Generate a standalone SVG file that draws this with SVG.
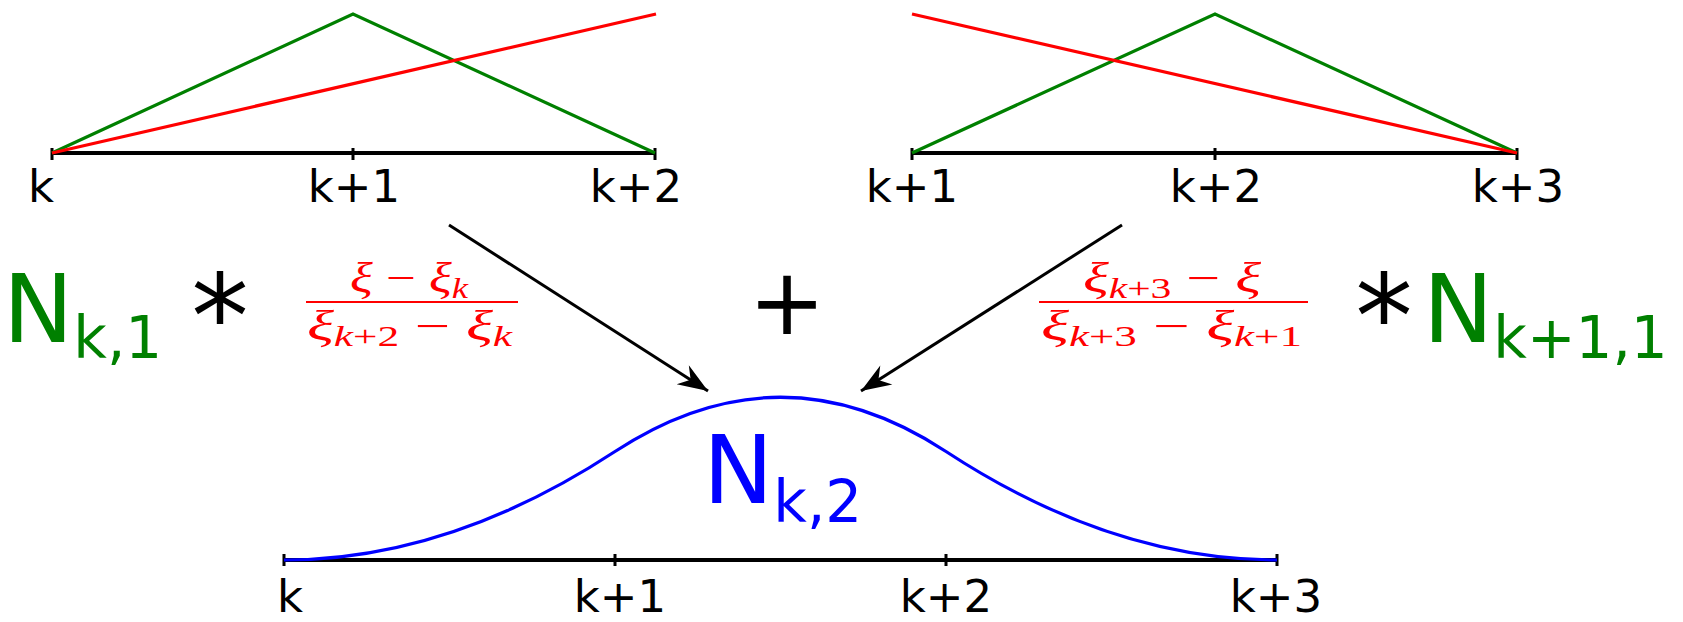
<svg xmlns="http://www.w3.org/2000/svg" width="1683" height="622" viewBox="0 0 1683 622">
<style>
.axis{stroke:#000;stroke-width:4;fill:none}
.tick{stroke:#000;stroke-width:3;fill:none}
.g{stroke:#008000;stroke-width:3.2;fill:none}
.r{stroke:#ff0000;stroke-width:3.2;fill:none}
.b{stroke:#0000ff;stroke-width:3.2;fill:none}
.lbl{font-family:"DejaVu Sans",Verdana,sans-serif;font-size:45px;fill:#000;text-anchor:middle}
.big{font-family:"DejaVu Sans",Verdana,sans-serif;font-size:94px}
.sub58{font-size:58px}
.op{font-family:"DejaVu Sans",sans-serif;fill:#000;text-anchor:middle}
.frac{font-family:"Liberation Serif","Times New Roman",serif;font-size:42px;fill:#ff0000}
.it{font-style:italic}
.sub{font-size:29px}
.fl{stroke:#ff0000;stroke-width:2}
.arrow{stroke:#000;stroke-width:3;fill:none}
</style>
<defs>
<marker id="ah" markerUnits="userSpaceOnUse" markerWidth="40" markerHeight="30" viewBox="-34 -16 38 32" refX="0" refY="0" orient="auto">
<path d="M0,0 L-32,-12 L-22,0 L-32,12 Z" fill="#000"/>
</marker>
</defs>

<g id="plot-top-left">
<line class="axis" x1="52" y1="153" x2="655" y2="153"/>
<path class="tick" d="M52,148 V160 M353,148 V160 M655,148 V160"/>
<polyline class="g" points="52,153 353,14 655,153"/>
<line class="r" x1="52" y1="153" x2="656" y2="14"/>
<text class="lbl" x="41" y="202">k</text>
<text class="lbl" x="354" y="202">k+1</text>
<text class="lbl" x="636" y="202">k+2</text>
</g>

<g id="plot-top-right">
<line class="axis" x1="912" y1="153" x2="1517" y2="153"/>
<path class="tick" d="M912,148 V160 M1215,148 V160 M1517,148 V160"/>
<polyline class="g" points="912,153 1215,14 1517,153"/>
<line class="r" x1="912" y1="14" x2="1517" y2="153"/>
<text class="lbl" x="912" y="202">k+1</text>
<text class="lbl" x="1216" y="202">k+2</text>
<text class="lbl" x="1518" y="202">k+3</text>
</g>

<g id="term-left">
<text class="big" x="3" y="342" fill="#008000">N<tspan class="sub58" dy="16">k,1</tspan></text>
<text class="op" x="220" y="357" font-size="115">*</text>
<line class="fl" x1="306" y1="302" x2="518" y2="302"/>
<text class="frac" x="350" y="292" textLength="118" lengthAdjust="spacingAndGlyphs"><tspan class="it">ξ</tspan> − <tspan class="it">ξ</tspan><tspan class="sub it" dy="6">k</tspan></text>
<text class="frac" x="307" y="340" textLength="205" lengthAdjust="spacingAndGlyphs"><tspan class="it">ξ</tspan><tspan class="sub" dy="6"><tspan class="it">k</tspan>+2</tspan><tspan dy="-6"> − </tspan><tspan class="it">ξ</tspan><tspan class="sub it" dy="6">k</tspan></text>
</g>

<g id="plus">
<text class="op" x="787" y="334" font-size="92">+</text>
</g>

<g id="term-right">
<line class="fl" x1="1039" y1="302" x2="1308" y2="302"/>
<text class="frac" x="1083" y="292" textLength="178" lengthAdjust="spacingAndGlyphs"><tspan class="it">ξ</tspan><tspan class="sub" dy="6"><tspan class="it">k</tspan>+3</tspan><tspan dy="-6"> − </tspan><tspan class="it">ξ</tspan></text>
<text class="frac" x="1041" y="340" textLength="261" lengthAdjust="spacingAndGlyphs"><tspan class="it">ξ</tspan><tspan class="sub" dy="6"><tspan class="it">k</tspan>+3</tspan><tspan dy="-6"> − </tspan><tspan class="it">ξ</tspan><tspan class="sub" dy="6"><tspan class="it">k</tspan>+1</tspan></text>
<text class="op" x="1384" y="357" font-size="115">*</text>
<text class="big" x="1423" y="342" fill="#008000">N<tspan class="sub58" dy="16">k+1,1</tspan></text>
</g>

<g id="plot-bottom">
<line class="axis" x1="284" y1="560" x2="1277" y2="560"/>
<path class="tick" d="M284,554 V566 M615,554 V566 M946,554 V566 M1277,554 V566"/>
<path class="b" d="M284,560 Q449.5,560 615,451.5 Q780.5,343 946,451.5 Q1111.5,560 1277,560"/>
<text class="big" x="703" y="503" fill="#0000ff">N<tspan class="sub58" dy="19" font-size="60px">k,2</tspan></text>
<text class="lbl" x="290" y="612">k</text>
<text class="lbl" x="620" y="612">k+1</text>
<text class="lbl" x="946" y="612">k+2</text>
<text class="lbl" x="1276" y="612">k+3</text>
</g>

<g id="connectors">
<line class="arrow" x1="449" y1="225" x2="708" y2="391" marker-end="url(#ah)"/>
<line class="arrow" x1="1122" y1="225" x2="861" y2="391" marker-end="url(#ah)"/>
</g>
</svg>
